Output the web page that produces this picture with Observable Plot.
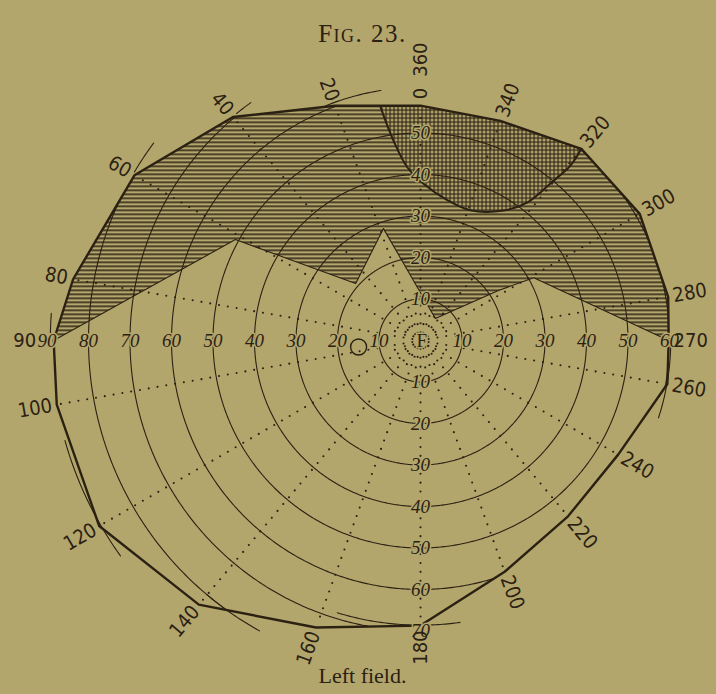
<!DOCTYPE html>
<html>
<head>
<meta charset="utf-8">
<script src="https://cdn.jsdelivr.net/npm/d3@7"></script>
<script src="https://cdn.jsdelivr.net/npm/@observablehq/plot@0.6"></script>
<style>
  html, body { margin: 0; padding: 0; background: #b3a66c; }
  #chart svg { display: block; }
</style>
</head>
<body>
<div id="chart"></div>
<script>
// ---------------- DATA ----------------
const title = "Fig. 23.";
const caption = "Left field.";

// concentric circles, degrees from fixation
const ringDegrees = [10, 20, 30, 40, 50, 60, 70, 80, 90];
// italic ring numbers along the horizontal and vertical meridians
const leftRingLabels = [10, 20, 30, 40, 50, 60, 70, 80, 90];
const rightRingLabels = [10, 20, 30, 40, 50, 60];
const upRingLabels = [10, 20, 30, 40, 50];
const downRingLabels = [10, 20, 30, 40, 50, 60, 70];

// outer limit of the field (meridian angle, eccentricity in degrees)
const outlineMeridians = [0, 20, 40, 60, 80, 90, 100, 120, 140, 160, 180, 200, 220, 240, 260, 270, 280, 300, 320, 340];
const outlineEcc       = [56.6, 60.2, 70.3, 79.6, 85.0, 88.4, 89.0, 89.4, 83.1, 73.6, 68.7, 59.3, 55.3, 55.0, 60.4, 59.8, 60.6, 61.0, 60.3, 56.3];

// lower limit of the horizontally hatched zone (from 90 over to 270)
const hatchLimitMeridians = [90, 61.4, 48.7, 18.3, 326, 302.7, 299, 270];
const hatchLimitEcc       = [88.4, 50.8, 20.8, 28.4, 6.4, 22.3, 31.2, 59.8];

// cross-hatched zone: its inner curve, from the outline near 10 down to the 320 vertex
const crossMeridians = [9.7, 7.7, 4.3, 358.9, 349, 339, 327.4, 322.2, 320.4, 319.4, 320];
const crossEcc       = [57.0, 48.6, 41.8, 37.8, 34.4, 33.6, 37.2, 42.1, 49.1, 55.5, 60.3];

// short arcs marking measured points beyond the outline
const tickFrom = [9, 35.5, 53.5, 85.8, 105.7, 140, 163, 252];
const tickTo   = [22, 39, 59.5, 89, 126, 151, 188, 270];
const tickEcc  = [61, 70.4, 80, 89.2, 89, 80, 68.6, 60.3];

// dotted meridians
const dottedMeridians = [0, 20, 40, 60, 80, 100, 120, 140, 160, 180, 200, 220, 240, 260, 280, 300, 320, 340];
const innerDottedMeridians = [10, 30, 50, 70, 110, 130, 150, 170, 190, 210, 230, 250, 290, 310, 330, 350];

// meridian numbers around the border
const meridianLabelAngles = [0, 20, 40, 60, 80, 90, 100, 120, 140, 160, 180, 200, 220, 240, 260, 270, 280, 300, 320, 340, 360];
const meridianLabelTexts  = ["0", "20", "40", "60", "80", "90", "100", "120", "140", "160", "180", "200", "220", "240", "260", "270", "280", "300", "320", "340", "360"];

// blind spot
const blindSpotMeridian = [96];
const blindSpotEcc = [15];

// ---------------- LAYOUT ----------------
const W = 716, H = 694;
const CX = 420, CY = 340;   // fixation point in pixels
const PX = 4.15;            // pixels per degree
const bg = "#b3a66c", ink = "#2b2113";

const toXY = (theta, e) => {
  const a = theta * Math.PI / 180;
  return {x: -e * Math.sin(a), y: e * Math.cos(a)};
};

const outlinePts = outlineMeridians.map((t, i) => toXY(t, outlineEcc[i]));
function outlineRadius(theta) {
  const a = theta * Math.PI / 180, ux = -Math.sin(a), uy = Math.cos(a);
  let best = Infinity;
  const n = outlinePts.length;
  for (let i = 0; i < n; i++) {
    const p1 = outlinePts[i], p2 = outlinePts[(i + 1) % n];
    const dx = p2.x - p1.x, dy = p2.y - p1.y;
    const den = ux * dy - uy * dx;
    if (Math.abs(den) < 1e-12) continue;
    const t = (p1.x * dy - p1.y * dx) / den;
    const s = (p1.x * uy - p1.y * ux) / den;
    if (s >= -1e-9 && s <= 1 + 1e-9 && t > 0) best = Math.min(best, t);
  }
  return best;
}

const signed = t => (t > 180 ? t - 360 : t);

const outlineRows = outlinePts;

// hatched polygon: outline over the top from 90 to 270, then back along the limit
const hatchRows = [
  ...outlineMeridians.map((t, i) => ({t, e: outlineEcc[i]}))
    .filter(d => d.t <= 90 || d.t >= 270)
    .sort((a, b) => signed(b.t) - signed(a.t))
    .map(d => toXY(d.t, d.e)),
  ...hatchLimitMeridians.map((t, i) => ({t, e: hatchLimitEcc[i]})).slice(1, -1).reverse().map(d => toXY(d.t, d.e))
];
const hatchLimitRows = hatchLimitMeridians.map((t, i) => toXY(t, hatchLimitEcc[i]));

// cross-hatched polygon
const crossCurveRows = crossMeridians.map((t, i) => toXY(t, crossEcc[i]));
const crossRows = [
  ...crossCurveRows,
  ...outlineMeridians.map((t, i) => ({t, e: outlineEcc[i]}))
    .filter(d => d.t > 320 || d.t < crossMeridians[0])
    .sort((a, b) => signed(a.t) - signed(b.t))
    .map(d => toXY(d.t, d.e))
];

// circles clipped to the field outline
const circleRows = [];
ringDegrees.forEach(d => {
  let seg = 0, inside = false;
  for (let t = 0; t <= 360; t += 0.5) {
    if (d <= outlineRadius(t)) {
      if (!inside) { seg++; inside = true; }
      circleRows.push({...toXY(t, d), z: d + "-" + seg});
    } else inside = false;
  }
});

// tick arcs
const tickRows = [];
tickFrom.forEach((f, i) => {
  for (let t = f; t <= tickTo[i] + 1e-9; t += 0.5) tickRows.push({...toXY(t, tickEcc[i]), z: i});
});

// meridian dots
const dotStep = 2.15;
const dotRows = [];
dottedMeridians.forEach(t => {
  const R = outlineRadius(t);
  for (let e = 2.0; e < R - 0.9; e += dotStep) dotRows.push(toXY(t, e));
});
innerDottedMeridians.forEach(t => {
  for (let e = 4.0; e < 9.0; e += dotStep * 1.2) dotRows.push(toXY(t, e));
});

// ring labels
const ringLabelRows = [
  ...leftRingLabels.map(d => ({x: -d, y: 0, text: String(d)})),
  ...rightRingLabels.map(d => ({x: d, y: 0, text: String(d)})),
  ...upRingLabels.map(d => ({x: 0, y: d, text: String(d)})),
  ...downRingLabels.map(d => ({x: 0, y: -d, text: String(d)}))
];

// meridian labels
const meridianLabelRows = meridianLabelAngles.map((t, i) => {
  const text = meridianLabelTexts[i];
  let off = 7 + text.length * 5;
  if (t === 360) off += 24;
  if (t === 90) off += 12;
  const e = outlineRadius(t % 360) + off / PX;
  const th = (t === 0) ? 360 : t;
  const rotate = th <= 180 ? 90 - th : 270 - th;
  return {...toXY(t, e), text, rotate};
});

const blindRows = blindSpotMeridian.map((t, i) => toXY(t, blindSpotEcc[i]));

const serif = "'Liberation Serif', 'DejaVu Serif', serif";
const narrow = "'Liberation Sans Narrow', 'DejaVu Sans Condensed', 'Liberation Sans', sans-serif";

const svg = Plot.plot({
  width: W,
  height: H,
  margin: 0,
  x: {domain: [-CX / PX, (W - CX) / PX], axis: null},
  y: {domain: [-(H - CY) / PX, CY / PX], axis: null},
  style: {background: bg, color: ink},
  marks: [
    Plot.line(hatchRows, {x: "x", y: "y", curve: "linear-closed", fill: "url(#hatchH)", stroke: "none"}),
    Plot.line(crossRows, {x: "x", y: "y", curve: "linear-closed", fill: "url(#hatchX)", stroke: "none"}),
    Plot.dot(dotRows, {x: "x", y: "y", r: 1.05, fill: ink, stroke: "none"}),
    Plot.line(circleRows, {x: "x", y: "y", z: "z", stroke: ink, strokeWidth: 1.1}),
    Plot.line(tickRows, {x: "x", y: "y", z: "z", stroke: ink, strokeWidth: 1.1}),
    Plot.line(hatchLimitRows, {x: "x", y: "y", stroke: ink, strokeWidth: 1.1}),
    Plot.line(crossCurveRows, {x: "x", y: "y", curve: "catmull-rom", stroke: ink, strokeWidth: 2}),
    Plot.line(outlineRows, {x: "x", y: "y", curve: "linear-closed", stroke: ink, strokeWidth: 2.4}),
    Plot.dot(blindRows, {x: "x", y: "y", r: 8, stroke: ink, strokeWidth: 1.4, fill: "none"}),
    Plot.text(ringLabelRows, {x: "x", y: "y", text: "text", fontSize: 19, fontStyle: "italic", fontFamily: serif, fill: ink, stroke: bg, strokeWidth: 3}),
    Plot.text(["F."], {x: 0, y: 0, dx: 3, fontSize: 19, fontFamily: serif, fill: ink, stroke: bg, strokeWidth: 3}),
    Plot.text(meridianLabelRows, {x: "x", y: "y", text: "text", rotate: "rotate", fontSize: 20, fontFamily: narrow, fill: ink}),
    Plot.text([title], {frameAnchor: "top", dx: 4, dy: 24, fontSize: 25, fontVariant: "small-caps", fontFamily: serif, fill: ink}),
    Plot.text([caption], {frameAnchor: "bottom", dx: 4, dy: -12, fontSize: 22, fontFamily: serif, fill: ink})
  ]
});

// fill patterns for the hatched zones
const defs = d3.select(svg).insert("defs", ":first-child");
const ph = defs.append("pattern").attr("id", "hatchH").attr("patternUnits", "userSpaceOnUse")
  .attr("width", 8).attr("height", 4);
ph.append("rect").attr("x", 0).attr("y", 1).attr("width", 8).attr("height", 1.5).attr("fill", ink);
const px = defs.append("pattern").attr("id", "hatchX").attr("patternUnits", "userSpaceOnUse")
  .attr("width", 4).attr("height", 4);
px.append("rect").attr("x", 0).attr("y", 0).attr("width", 4).attr("height", 4).attr("fill", bg);
px.append("rect").attr("x", 0).attr("y", 1).attr("width", 4).attr("height", 1.1).attr("fill", ink);
px.append("rect").attr("x", 1).attr("y", 0).attr("width", 1.1).attr("height", 4).attr("fill", ink);

d3.select(svg).selectAll("text").filter(function() { return this.textContent === title; })
  .style("letter-spacing", "1.5px");

document.getElementById("chart").append(svg);
</script>
</body>
</html>
